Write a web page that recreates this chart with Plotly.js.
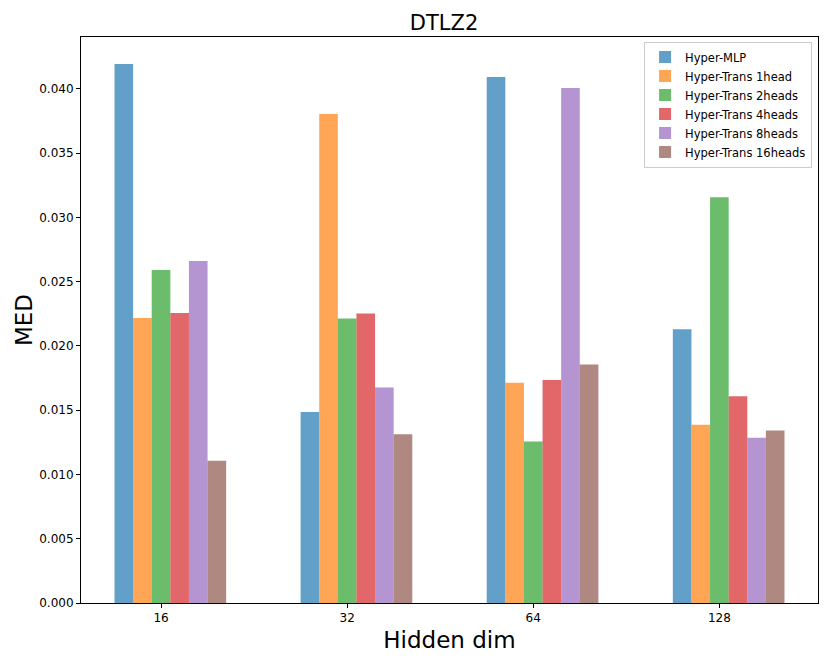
<!DOCTYPE html>
<html>
<head>
<meta charset="utf-8">
<script src="https://cdn.plot.ly/plotly-3.0.1.min.js"></script>
<style>html,body{margin:0;padding:0;background:#fff}#chart{width:830px;height:664px}</style>
</head>
<body>
<div id="chart"></div>
<script>
const categories = ['16', '32', '64', '128'];
const seriesNames = ['Hyper-MLP', 'Hyper-Trans 1head', 'Hyper-Trans 2heads', 'Hyper-Trans 4heads', 'Hyper-Trans 8heads', 'Hyper-Trans 16heads'];
const hyperMLP     = [0.04194, 0.01487, 0.04093, 0.02130];
const trans1head   = [0.02218, 0.03805, 0.01713, 0.01386];
const trans2heads  = [0.02592, 0.02213, 0.01256, 0.03157];
const trans4heads  = [0.02257, 0.02252, 0.01736, 0.01609];
const trans8heads  = [0.02662, 0.01676, 0.04007, 0.01285];
const trans16heads = [0.01106, 0.01313, 0.01855, 0.01342];
const seriesValues = [hyperMLP, trans1head, trans2heads, trans4heads, trans8heads, trans16heads];
const colors = ['rgba(31,119,180,0.7)', 'rgba(255,127,14,0.7)', 'rgba(44,160,44,0.7)', 'rgba(214,39,40,0.7)', 'rgba(148,103,189,0.7)', 'rgba(140,86,75,0.7)'];

const barWidth = 0.1;
const xIdx = categories.map((c, i) => i);
const traces = seriesNames.map((name, s) => ({
  type: 'bar',
  name: name,
  x: xIdx,
  y: seriesValues[s],
  width: barWidth,
  offset: -0.25 + s * barWidth,
  marker: {color: colors[s], line: {width: 0}},
  hoverinfo: 'skip'
}));

const layout = {
  width: 830, height: 664,
  margin: {l: 81, r: 12, t: 37, b: 61},
  paper_bgcolor: '#fff', plot_bgcolor: '#fff',
  font: {family: 'DejaVu Sans, sans-serif', color: '#000', size: 12},
  title: {text: 'DTLZ2', font: {size: 21, color: '#000'}, x: 0.535, xanchor: 'center', y: 0.977, yanchor: 'top'},
  barmode: 'overlay',
  showlegend: true,
  legend: {x: 0.764, y: 0.992, xanchor: 'left', yanchor: 'top', bgcolor: 'rgba(255,255,255,0.8)',
           bordercolor: '#cccccc', borderwidth: 1, font: {size: 11.5, color: '#000'}, tracegroupgap: 0},
  xaxis: {
    range: [-0.43, 3.53], tickvals: xIdx, ticktext: categories,
    showline: true, linecolor: '#000', linewidth: 1, mirror: true,
    ticks: 'outside', ticklen: 4, tickcolor: '#000', showgrid: false, zeroline: false,
    tickfont: {size: 12},
    title: {text: 'Hidden dim', font: {size: 23}, standoff: 7}
  },
  yaxis: {
    range: [0, 0.04404], dtick: 0.005, tick0: 0, tickformat: '.3f',
    showline: true, linecolor: '#000', linewidth: 1, mirror: true,
    ticks: 'outside', ticklen: 4, tickcolor: '#000', showgrid: false, zeroline: false,
    tickfont: {size: 12},
    title: {text: 'MED', font: {size: 23}, standoff: 0}
  }
};

Plotly.newPlot('chart', traces, layout, {staticPlot: true, displayModeBar: false});
</script>
</body>
</html>
